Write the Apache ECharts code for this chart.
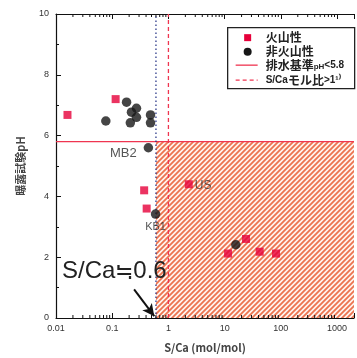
<!DOCTYPE html>
<html>
<head>
<meta charset="utf-8">
<script src="https://cdn.jsdelivr.net/npm/echarts@6/dist/echarts.min.js"></script>
<style>
  html, body { margin: 0; padding: 0; background: #fff; }
  #chart { width: 357px; height: 358px; }
</style>
</head>
<body>
<div id="chart"></div>
<script>
// 火山性 samples: S/Ca molar ratio and exposure-test pH
const volcanicSCa = [0.016, 0.115, 0.37, 0.41, 2.3, 11.5, 24, 42, 82];
const volcanicPH  = [6.68, 7.2, 4.2, 3.6, 4.4, 2.12, 2.6, 2.18, 2.12];
const volcanicTags = ['', '', '', '', 'US', '', '', '', ''];

// 非火山性 samples
const nonVolcanicSCa = [0.077, 0.18, 0.27, 0.22, 0.27, 0.21, 0.48, 0.48, 0.44, 0.59, 15.8];
const nonVolcanicPH  = [6.48, 7.1, 6.9, 6.77, 6.6, 6.42, 6.68, 6.42, 5.6, 3.42, 2.41];
const nonVolcanicTags = ['', '', '', '', '', '', '', '', 'MB2', 'KB1', ''];

// Reference limits
const phLimit = 5.8;        // 排水基準 pH
const sCaRatioLimit = 1;    // S/Ca モル比
const sCaThreshold = 0.6;   // S/Ca ≒ 0.6

// Axis settings
const xMin = 0.01, xMax = 2000;
const yMin = 0, yMax = 10;
const xTickLabels = { '-2': '0.01', '-1': '0.1', '0': '1', '1': '10', '2': '100', '3': '1000' };
const yTickLabels = ['0', '2', '4', '6', '8', '10'];

const RED = '#e6003a';
const LINE_RED = '#ef3550';
const DARK = '#161616';

// Minor ticks of the log axis (2..9 within each decade)
const logMinorTicks = [];
for (let e = -2; e <= 3; e++) {
  for (let m = 2; m <= 9; m++) {
    const v = m * Math.pow(10, e);
    if (v < xMax) logMinorTicks.push([v]);
  }
}

// Diagonal hatch tile
function hatchTile() {
  const s = 5;
  const c = document.createElement('canvas');
  c.width = s; c.height = s;
  const g = c.getContext('2d');
  g.fillStyle = '#fff4ef';
  g.fillRect(0, 0, s, s);
  g.strokeStyle = '#ec7450';
  g.lineWidth = 1.8;
  g.beginPath();
  g.moveTo(-1, s + 1); g.lineTo(s + 1, -1);
  g.moveTo(-1, 1); g.lineTo(1, -1);
  g.moveTo(s - 1, s + 1); g.lineTo(s + 1, s - 1);
  g.stroke();
  return c;
}

function points(xs, ys, tags) {
  return xs.map((x, i) => ({ value: [x, ys[i]], tag: tags[i] }));
}

const tagStyle = { fontFamily: 'Liberation Sans, Arial', color: '#2a2a2a' };
const labelPlacement = {
  MB2: { position: 'left', distance: 7, offset: [0, 6], fontSize: 13 },
  KB1: { position: 'bottom', distance: 3, offset: [0, 0], fontSize: 11 },
  US:  { position: 'right', distance: 2, offset: [0, 1], fontSize: 12 }
};

function withTags(data) {
  return data.map(d => {
    if (!d.tag) return { value: d.value };
    const p = labelPlacement[d.tag];
    return {
      value: d.value,
      label: Object.assign({ show: true, formatter: d.tag }, tagStyle, p)
    };
  });
}

// Legend panel drawn as a graphic group
const legendFont = 'Noto Sans CJK JP';
const legendRich = {
  s: { fontFamily: 'Liberation Sans, Arial', fontSize: 8, fontWeight: 'bold', fill: '#222', verticalAlign: 'bottom' },
  n: { fontFamily: 'Liberation Sans, Arial', fontSize: 10, fontWeight: 'bold', fill: '#222' }
};
function legendText(y, text) {
  return {
    type: 'text', x: 38, y: y,
    style: {
      text: text, fontFamily: legendFont, fontSize: 12, fontWeight: 'bold', fill: '#222',
      verticalAlign: 'middle', rich: legendRich
    }
  };
}
const legendGroup = {
  type: 'group', left: 227, top: 27, z: 20,
  children: [
    { type: 'rect', shape: { x: 0, y: 0, width: 127, height: 61 },
      style: { fill: '#fff', stroke: '#222', lineWidth: 1.3 } },
    { type: 'rect', shape: { x: 16.5, y: 6.5, width: 7, height: 7 }, style: { fill: RED } },
    legendText(10, '火山性'),
    { type: 'circle', shape: { cx: 20, cy: 24, r: 4 }, style: { fill: DARK } },
    legendText(24, '非火山性'),
    { type: 'line', shape: { x1: 8, y1: 37.5, x2: 30, y2: 37.5 }, style: { stroke: LINE_RED, lineWidth: 1.3 } },
    legendText(37.5, '排水基準{s|pH}{n|<5.8}'),
    { type: 'line', shape: { x1: 8, y1: 52.5, x2: 30, y2: 52.5 }, style: { stroke: LINE_RED, lineWidth: 1.3, lineDash: [4, 3] } },
    legendText(52.5, '{n|S/Ca}モル比{n|>1¹⁾}')
  ]
};

const chart = echarts.init(document.getElementById('chart'), null, { renderer: 'canvas' });

const axisFont = { fontFamily: 'Liberation Sans, Arial', fontSize: 9, color: '#333' };

chart.setOption({
  animation: false,
  backgroundColor: '#fff',
  grid: { left: 56, right: -8, top: 14, bottom: 37 },
  xAxis: [{
    type: 'log', logBase: 10, min: xMin, max: xMax,
    name: 'S/Ca (mol/mol)', nameLocation: 'middle', nameGap: 24,
    nameTextStyle: { fontFamily: 'Noto Sans CJK JP', fontSize: 11, fontWeight: 'bold', color: '#444' },
    axisLine: { lineStyle: { color: '#111', width: 1.2 } },
    axisTick: { inside: true, length: 5, lineStyle: { color: '#111' } },
    axisLabel: Object.assign({
      margin: 6,
      formatter: v => {
        const e = Math.round(Math.log10(v));
        return Math.abs(Math.log10(v) - e) < 1e-6 && xTickLabels[e] !== undefined ? xTickLabels[e] : '';
      }
    }, axisFont),
    splitLine: { show: false }
  }, {
    type: 'log', logBase: 10, min: xMin, max: xMax, position: 'top',
    axisLine: { lineStyle: { color: '#111', width: 1.2 } },
    axisTick: { inside: true, length: 5, lineStyle: { color: '#111' } },
    axisLabel: { show: false },
    splitLine: { show: false }
  }],
  yAxis: {
    type: 'value', min: yMin, max: yMax, interval: 2,
    name: '曝露試験pH', nameLocation: 'middle', nameGap: 30, nameRotate: 90,
    nameTextStyle: { fontFamily: 'Noto Sans CJK JP', fontSize: 11, fontWeight: 'bold', color: '#444' },
    axisLine: { show: true, lineStyle: { color: '#111', width: 1.2 } },
    axisTick: { show: true, inside: true, length: 5, lineStyle: { color: '#111' } },
    minorTick: { show: true, splitNumber: 2, length: 3, lineStyle: { color: '#111' } },
    axisLabel: Object.assign({ margin: 7, formatter: v => yTickLabels[v / 2] || '' }, axisFont),
    splitLine: { show: false }
  },
  series: [
    {
      // hatched region: pH below limit and S/Ca above ≒0.6
      name: 'region', type: 'line', data: [], silent: true,
      markArea: {
        silent: true,
        itemStyle: { color: { image: hatchTile(), repeat: 'repeat' } },
        data: [[{ coord: [sCaThreshold, yMin] }, { coord: [xMax, phLimit] }]]
      }
    },
    {
      name: '排水基準pH<5.8', type: 'line', symbol: 'none', silent: true,
      lineStyle: { color: LINE_RED, width: 1.3, type: 'solid' },
      data: [[xMin, phLimit], [xMax, phLimit]], z: 3
    },
    {
      name: 'S/Caモル比>1', type: 'line', symbol: 'none', silent: true,
      lineStyle: { color: LINE_RED, width: 1.3, type: [4, 3] },
      data: [[sCaRatioLimit, yMin], [sCaRatioLimit, yMax]], z: 3
    },
    {
      name: 'threshold', type: 'line', symbol: 'none', silent: true,
      lineStyle: { color: '#1c2a80', width: 1.2, type: [1.5, 2.5] },
      data: [[sCaThreshold, yMin], [sCaThreshold, yMax]], z: 3,
      markLine: {
        silent: true, symbol: ['none', 'arrow'], symbolSize: [9, 12],
        label: { show: false },
        lineStyle: { color: '#111', width: 2, type: 'solid' },
        data: [[{ coord: [0.245, 0.94] }, { coord: [0.56, 0.06] }]]
      }
    },
    {
      name: 'minorTicks', type: 'custom', silent: true, xAxisIndex: 0,
      data: logMinorTicks, clip: false, z: 4,
      renderItem: (params, api) => {
        const b = api.coord([api.value(0), yMin]);
        const t = api.coord([api.value(0), yMax]);
        const st = { stroke: '#111', lineWidth: 1 };
        return {
          type: 'group',
          children: [
            { type: 'line', shape: { x1: b[0], y1: b[1], x2: b[0], y2: b[1] - 3 }, style: st },
            { type: 'line', shape: { x1: t[0], y1: t[1], x2: t[0], y2: t[1] + 3 }, style: st }
          ]
        };
      }
    },
    {
      name: '火山性', type: 'scatter', symbol: 'rect', symbolSize: 8,
      itemStyle: { color: RED }, z: 5,
      data: withTags(points(volcanicSCa, volcanicPH, volcanicTags))
    },
    {
      name: '非火山性', type: 'scatter', symbol: 'circle', symbolSize: 9.5,
      itemStyle: { color: DARK }, z: 5,
      data: withTags(points(nonVolcanicSCa, nonVolcanicPH, nonVolcanicTags))
    }
  ],
  graphic: [
    legendGroup,
    {
      type: 'text', left: 62, top: 259, z: 10,
      style: {
        text: '{a|S/Ca}{b|≒}{a|0.6}',
        fontFamily: 'Liberation Sans, Arial', fontSize: 24, fill: '#222',
        rich: {
          a: { fontFamily: 'Liberation Sans, Arial', fontSize: 24, fill: '#222' },
          b: { fontFamily: 'Noto Sans CJK JP', fontSize: 22, fill: '#222' }
        }
      }
    }
  ]
});
</script>
</body>
</html>
